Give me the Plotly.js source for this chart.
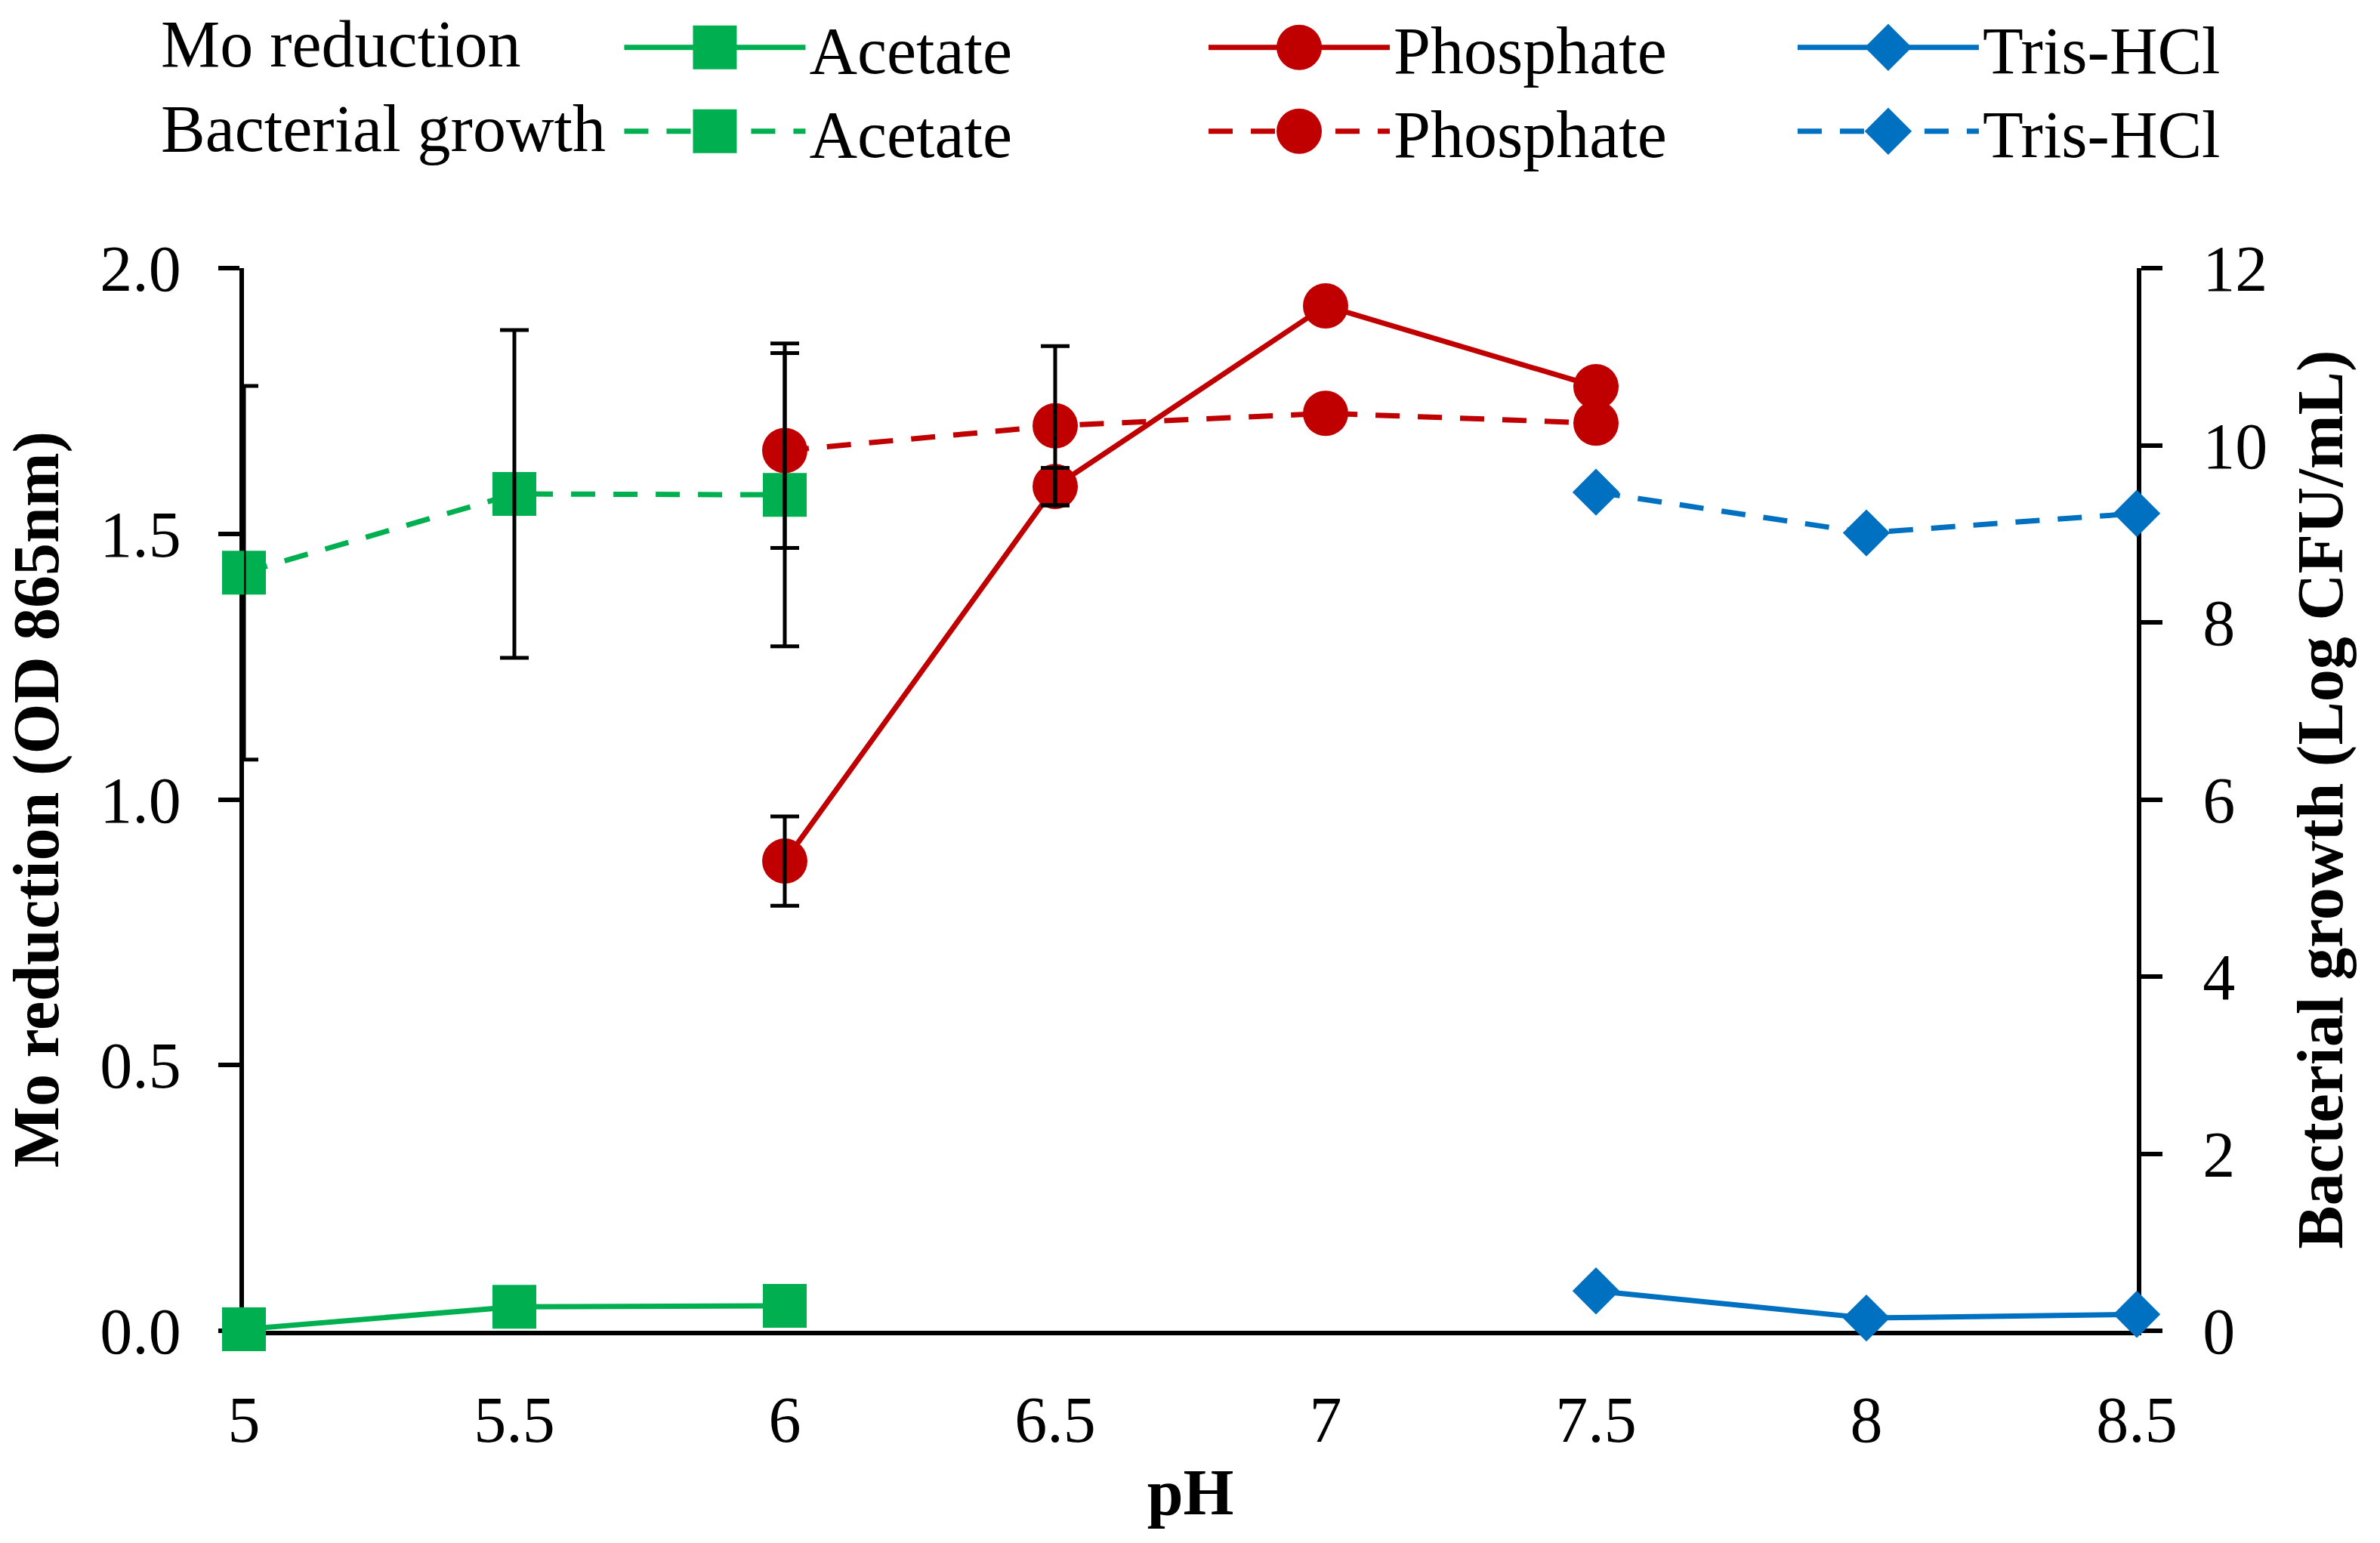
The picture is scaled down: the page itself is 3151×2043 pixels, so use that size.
<!DOCTYPE html>
<html>
<head>
<meta charset="utf-8">
<script src="https://cdn.plot.ly/plotly-3.0.1.min.js"></script>
<style>
  html, body { margin: 0; padding: 0; background: #ffffff; }
  #chart { width: 3151px; height: 2043px; }
</style>
</head>
<body>
<div id="chart"></div>
<script>
// ---- Data ----
const phAcetate   = [5, 5.5, 6];
const phPhosphate = [6, 6.5, 7, 7.5];
const phTris      = [7.5, 8, 8.5];

// Mo reduction (OD 865 nm) – left axis
const moAcetate      = [0.003, 0.045, 0.047];
const moPhosphate    = [0.884, 1.589, 1.929, 1.777];
const moPhosphateErr = [0.084, 0.035, 0, 0];
const moTris         = [0.075, 0.024, 0.031];

// Bacterial growth (Log CFU/mL) – right axis
const growthAcetate      = [8.56, 9.45, 9.44];
const growthAcetateErr   = [2.11, 1.85, 1.71];
const growthPhosphate    = [9.94, 10.22, 10.36, 10.25];
const growthPhosphateErr = [1.10, 0.90, 0, 0];
const growthTris         = [9.47, 9.01, 9.23];

const leftTicks  = [0, 0.5, 1.0, 1.5, 2.0];
const rightTicks = [0, 2, 4, 6, 8, 10, 12];
const xTicks     = [5, 5.5, 6, 6.5, 7, 7.5, 8, 8.5];

// ---- Styles ----
const GREEN = '#00B050', RED = '#C00000', BLUE = '#0070C0';
const FONT = '"Liberation Serif", "Times New Roman", serif';
const LW = 7;
const DASH = '32px,24px';

function series(name, x, y, color, symbol, size, axis, dashed, legend) {
  return {
    type: 'scatter', mode: 'lines+markers', name: name, x: x, y: y,
    yaxis: axis, legend: legend, cliponaxis: false,
    line: { color: color, width: LW, dash: dashed ? DASH : 'solid' },
    marker: { color: color, symbol: symbol, size: size, line: { width: 0 } },
    hoverinfo: 'x+y'
  };
}
// error bars drawn as separate overlay traces so they sit on top of the markers
function errTrace(x, y, err, axis) {
  const idx = err.map((e, i) => i).filter(i => err[i] > 0);
  return {
    type: 'scatter', mode: 'markers', x: idx.map(i => x[i]), y: idx.map(i => y[i]), yaxis: axis,
    showlegend: false, hoverinfo: 'skip', cliponaxis: true,
    marker: { opacity: 0, size: 2 },
    error_y: { type: 'data', array: idx.map(i => err[i]), visible: true, color: '#000000', thickness: 5, width: 19 }
  };
}

const data = [
  series('Acetate',   phAcetate,   moAcetate,   GREEN, 'square',  58, 'y', false, 'legend'),
  series('Phosphate', phPhosphate, moPhosphate, RED,   'circle',  60, 'y', false, 'legend2'),
  series('Tris-HCl',  phTris,      moTris,      BLUE,  'diamond', 48, 'y', false, 'legend3'),
  errTrace(phPhosphate, moPhosphate, moPhosphateErr, 'y'),
  series('Acetate',   phAcetate,   growthAcetate,   GREEN, 'square',  58, 'y2', true, 'legend4'),
  series('Phosphate', phPhosphate, growthPhosphate, RED,   'circle',  60, 'y2', true, 'legend5'),
  series('Tris-HCl',  phTris,      growthTris,      BLUE,  'diamond', 48, 'y2', true, 'legend6'),
  errTrace(phAcetate,   growthAcetate,   growthAcetateErr,   'y2'),
  errTrace(phPhosphate, growthPhosphate, growthPhosphateErr, 'y2')
];

const tickFont  = { family: FONT, size: 86, color: '#000000' };
const titleFont = { family: FONT, size: 86, color: '#000000', weight: 'bold' };
const legendFont = { family: FONT, size: 88, color: '#000000' };

function legendAt(x, y) {
  return {
    orientation: 'h', xanchor: 'left', yanchor: 'middle', x: x, y: y,
    font: legendFont, bgcolor: 'rgba(0,0,0,0)', borderwidth: 0,
    itemwidth: 240, itemclick: false, itemdoubleclick: false
  };
}
const colX = [0.1989, 0.5076, 0.8188];
const rowY = [1.2075, 1.1286];

const layout = {
  width: 3151, height: 2043,
  paper_bgcolor: '#ffffff', plot_bgcolor: '#ffffff',
  margin: { l: 323, r: 322, t: 355, b: 281, pad: 0, autoexpand: false },
  font: { family: FONT, color: '#000000' },
  showlegend: true,
  xaxis: {
    range: [5, 8.5], tickvals: xTicks, ticktext: xTicks.map(String),
    showline: true, linecolor: '#000000', linewidth: 6,
    ticks: '', showgrid: false, zeroline: false, layer: 'below traces',
    tickfont: tickFont, ticklabelstandoff: 38,
    title: { text: 'pH', font: titleFont, standoff: 20 }
  },
  yaxis: {
    range: [0, 2], tickvals: leftTicks, ticktext: leftTicks.map(v => v.toFixed(1)),
    showline: true, linecolor: '#000000', linewidth: 6,
    ticks: 'outside', ticklen: 28, tickwidth: 6, tickcolor: '#000000',
    showgrid: false, zeroline: false, layer: 'below traces',
    tickfont: tickFont, ticklabelstandoff: 32,
    title: { text: 'Mo reduction (OD 865nm)', font: titleFont, standoff: 45 }
  },
  yaxis2: {
    range: [0, 12], tickvals: rightTicks, ticktext: rightTicks.map(String),
    overlaying: 'y', side: 'right', anchor: 'x',
    showline: true, linecolor: '#000000', linewidth: 6,
    ticks: 'outside', ticklen: 28, tickwidth: 6, tickcolor: '#000000',
    showgrid: false, zeroline: false, layer: 'below traces',
    tickfont: tickFont, ticklabelstandoff: 36,
    title: { text: 'Bacterial growth (Log CFU/mL)', font: titleFont, standoff: 42 }
  },
  legend:  legendAt(colX[0], rowY[0]),
  legend2: legendAt(colX[1], rowY[0]),
  legend3: legendAt(colX[2], rowY[0]),
  legend4: legendAt(colX[0], rowY[1]),
  legend5: legendAt(colX[1], rowY[1]),
  legend6: legendAt(colX[2], rowY[1]),
  annotations: [
    { text: 'Mo reduction', xref: 'paper', yref: 'paper', x: -0.0445, y: 1.2104,
      xanchor: 'left', yanchor: 'middle', showarrow: false, font: legendFont },
    { text: 'Bacterial growth', xref: 'paper', yref: 'paper', x: -0.0445, y: 1.1308,
      xanchor: 'left', yanchor: 'middle', showarrow: false, font: legendFont }
  ]
};

Plotly.newPlot('chart', data, layout, { staticPlot: true, displayModeBar: false }).then(function (gd) {
  // legend symbols are size-clamped by Plotly; enlarge them to the plot's marker size
  gd.querySelectorAll('.infolayer g.traces').forEach(function (g) {
    const cd = g.__data__;
    if (!cd || !cd[0] || !cd[0].trace) return;
    const tr = cd[0].trace;
    const p = g.querySelector('.legendpoints path.scatterpts');
    if (!p) return;
    const bb = p.getBBox();
    const factor = tr.marker.symbol === 'diamond' ? 1.3 : 1;
    const target = tr.marker.size * factor;
    if (bb.height > 0) {
      const s = target / bb.height;
      const t = p.getAttribute('transform') || '';
      p.setAttribute('transform', t + ' scale(' + s.toFixed(3) + ')');
    }
  });
});
</script>
</body>
</html>
